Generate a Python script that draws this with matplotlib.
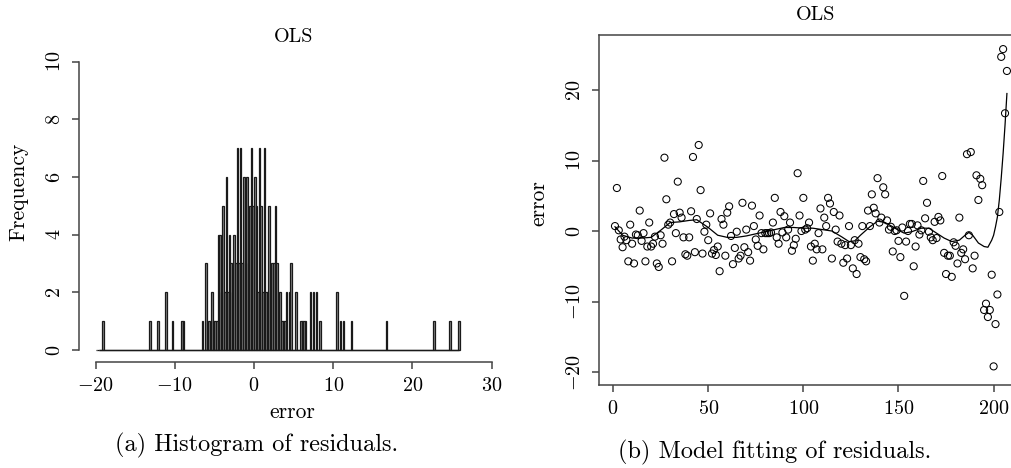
import numpy as np
import matplotlib
matplotlib.use("Agg")
import matplotlib.pyplot as plt

plt.rcParams['font.family'] = ['cmr10', 'DejaVu Serif']
plt.rcParams['mathtext.fontset'] = 'cm'
plt.rcParams['axes.formatter.use_mathtext'] = True
plt.rcParams['axes.unicode_minus'] = True

residuals = [
    0.7, 6.1, 0.1, -1.2, -2.3, -0.8, -1.3, -4.3, 0.9, -1.8,
    -4.6, -0.5, -0.6, 2.9, -1.4, -0.3, -4.3, -2.2, 1.2, -2.2,
    -1.8, -0.8, -4.6, -5.1, -0.6, -1.8, 10.4, 4.5, 0.9, 1.2,
    -4.3, 2.4, -0.3, 7.0, 2.6, 1.9, -0.9, -3.3, -3.5, -0.9,
    2.8, 10.5, -3.0, 1.7, 12.2, 5.8, -3.2, -0.1, 0.9, -1.3,
    2.5, -3.2, -2.7, -3.4, -2.2, -5.7, 1.7, 0.9, -3.5, 2.6,
    3.5, -0.7, -4.7, -2.4, -0.1, -3.9, -3.5, 4.0, -2.3, 0.2,
    -3.0, -4.2, 3.6, 0.7, -1.2, -2.1, 2.2, -0.3, -2.6, -0.3,
    -0.3, -0.3, -0.2, 1.2, 4.7, -0.9, -1.8, 2.7, -0.2, 2.1,
    -0.9, 0.2, 1.2, -2.8, -2.0, -1.1, 8.2, 2.2, 0.0, 4.7,
    0.2, 0.4, 1.2, -2.2, -4.2, -1.8, -2.6, -0.3, 3.2, -2.6,
    1.9, 0.7, 4.7, 3.9, -3.9, 2.7, 0.2, -1.5, 2.2, -1.8,
    -4.5, -2.0, -3.9, 0.7, -2.0, -5.3, -1.3, -6.1, -1.8, -3.7,
    0.7, -4.0, -4.3, 2.9, 0.7, 5.2, 3.3, 2.5, 7.5, 1.2,
    1.9, 6.2, 5.2, 1.5, 0.2, 0.6, -2.9, 0.0, 0.1, -1.4,
    -3.7, 0.5, -9.2, -1.5, 0.0, 1.0, 1.0, -5.0, -2.2, 0.8,
    -0.5, 0.1, 7.1, 1.8, 4.0, -0.1, -0.9, -1.3, 1.3, -1.0,
    2.0, 1.5, 7.8, -3.1, -6.1, -3.5, -3.5, -6.5, -1.6, -2.1,
    -4.6, 1.9, -3.1, -2.6, -4.0, 10.9, -0.6, 11.2, -5.3, -3.5,
    7.9, 4.4, 7.4, 6.5, -11.2, -10.3, -12.2, -11.2, -6.2, -19.2,
    -13.2, -9.0, 2.7, 24.7, 25.8, 16.7, 22.7,
]
index = np.arange(1, len(residuals) + 1)

# fitted smooth curve
fit_x = [1, 5, 10, 15, 20, 25, 30, 35, 40, 44, 50, 55, 60, 65, 70, 75, 80,
         85, 90, 95, 100, 105, 110, 115, 120, 124, 127, 130, 135, 139, 143,
         147, 150, 153, 157, 162, 166, 170, 174, 178, 182, 185, 187, 189,
         192, 195, 197, 199, 200, 201, 202, 203, 204, 205, 206, 207]
fit_y = [0.6, -0.6, -1.0, -1.0, -0.9, 0.1, 1.2, 1.3, 1.5, 1.6, 0.5, -0.6,
         -0.9, -0.9, -0.7, -0.4, -0.1, 0.2, 0.5, 0.5, 0.4, 0.4, 0.2, 0.0,
         -0.8, -1.5, -1.4, -0.6, 0.6, 1.4, 1.2, 0.6, 0.1, -0.3, -0.1, 0.4,
         0.4, -0.3, -1.0, -1.5, -1.3, -0.6, -0.2, -0.6, -1.7, -2.2, -2.3,
         -1.3, -0.6, 0.6, 2.0, 4.4, 7.5, 11.0, 15.0, 19.5]

bin_edges = np.arange(-20, 26.01, 0.2)

W, H = 1012, 468
fig = plt.figure(figsize=(W / 100, H / 100), dpi=100)
dark = '#444444'


def frac(x0, y0, x1, y1):
    # pixel box (top-left origin) -> figure fractions
    return [x0 / W, 1 - y1 / H, (x1 - x0) / W, (y1 - y0) / H]


# ---- (a) histogram ----
ax1 = fig.add_axes(frac(79, 50.2, 491.7, 361.5))
ax1.hist(residuals, bins=bin_edges, facecolor='#888888', edgecolor='#1a1a1a',
         linewidth=0.9)
ax1.hlines(0, -19.6, 25.9, color='#1a1a1a', linewidth=1.0)
ax1.set_xlim(-22.1, 30)
ax1.set_ylim(-0.4, 10.4)
for s in ['top', 'right']:
    ax1.spines[s].set_visible(False)
ax1.spines['left'].set_bounds(0, 10)
ax1.spines['bottom'].set_bounds(-20, 30)
ax1.set_xticks([-20, -10, 0, 10, 20, 30])
ax1.set_yticks([0, 2, 4, 6, 8, 10])
for lab in ax1.get_yticklabels():
    lab.set_rotation(90)
    lab.set_va('center')

# ---- (b) residuals vs index ----
ax2 = fig.add_axes(frac(599.3, 35, 1022.6, 385))
ax2.scatter(index, residuals, s=26, facecolors='none', edgecolors='black',
            linewidths=0.75)
ax2.plot(fit_x, fit_y, color='black', linewidth=0.9)
ax2.set_xlim(-7.24, 215.24)
ax2.set_ylim(-21.84, 27.8)
ax2.set_xticks([0, 50, 100, 150, 200])
ax2.set_yticks([-20, -10, 0, 10, 20])
for lab in ax2.get_yticklabels():
    lab.set_rotation(90)
    lab.set_va('center')

for ax in (ax1, ax2):
    for s in ax.spines.values():
        s.set_color(dark)
        s.set_linewidth(1.1)
    ax.tick_params(direction='out', length=5, width=1.1, color=dark,
                   labelsize=14.5, pad=6)

# titles, labels and captions
fig.text(294 / W, 1 - 37 / H, 'OLS', ha='center', va='center', fontsize=14.5)
fig.text(816 / W, 1 - 15 / H, 'OLS', ha='center', va='center', fontsize=14.5)
fig.text(292 / W, 1 - 412 / H, 'error', ha='center', va='center', fontsize=15.5)
fig.text(19 / W, 1 - 192 / H, 'Frequency', ha='center', va='center',
         rotation=90, fontsize=15.5)
fig.text(539 / W, 1 - 203 / H, 'error', ha='center', va='center',
         rotation=90, fontsize=15.5)
fig.text(257 / W, 1 - 445 / H, '(a) Histogram of residuals.', ha='center',
         va='center', fontsize=17.5)
fig.text(775 / W, 1 - 452 / H, '(b) Model fitting of residuals.', ha='center',
         va='center', fontsize=17.5)

fig.savefig('out.png', dpi=100)
